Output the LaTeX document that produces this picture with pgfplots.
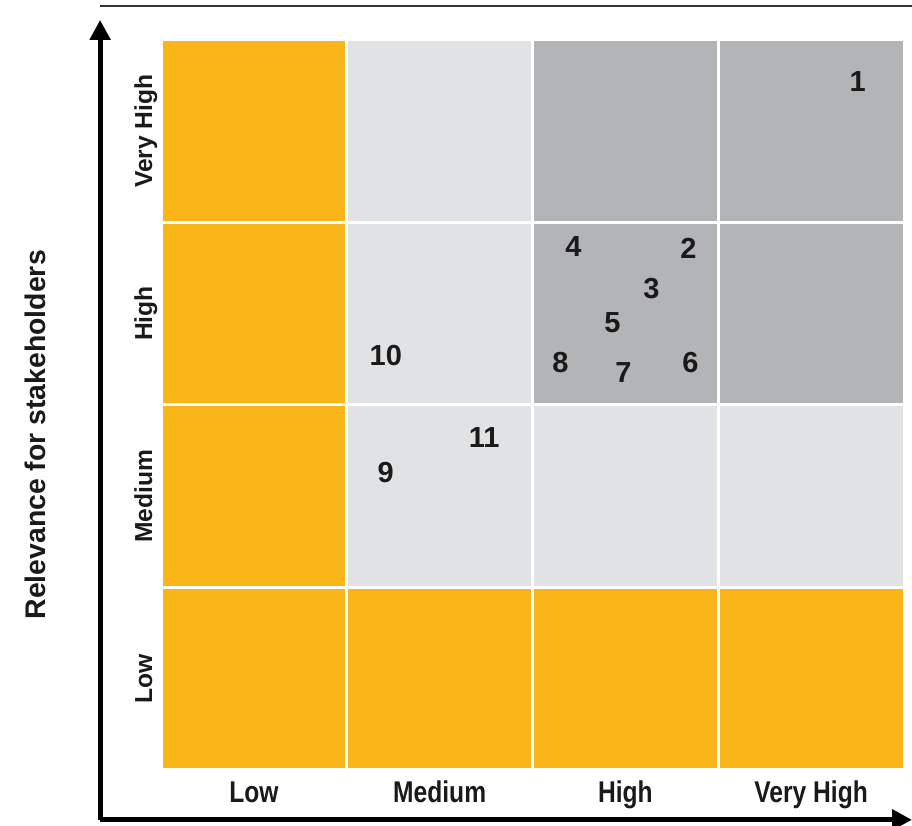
\documentclass[border=0pt]{standalone}
\usepackage{pgfplots}
\pgfplotsset{compat=1.18}
\usepackage{pgfplotstable}
\usepackage{fontspec}
\setmainfont{Liberation Sans}
\newfontfamily\narrowfont[FakeStretch=0.82]{Liberation Sans}
\usetikzlibrary{arrows.meta}
\definecolor{cOr}{HTML}{F9B417}
\definecolor{cLg}{HTML}{E1E2E3}
\definecolor{cDg}{HTML}{B3B4B6}
\definecolor{cTx}{HTML}{1A1A1A}

\pgfplotstableread{
x y label
3.75 3.77 1
2.84 2.86 2
2.64 2.64 3
2.22 2.87 4
2.43 2.45 5
2.85 2.23 6
2.49 2.18 7
2.15 2.23 8
1.21 1.63 9
1.21 2.27 10
1.74 1.82 11
}\points

\begin{document}
\begin{tikzpicture}
\begin{axis}[
  scale only axis,
  width=406pt, height=400pt,
  xmin=-0.328, xmax=4.043,
  ymin=-0.274, ymax=4.110,
  axis lines=left,
  axis line style={line width=2.6pt, -{Stealth[length=10pt,width=10pt,inset=0pt]}},
  clip=false,
  major tick length=0pt,
  xtick={0.5,1.5,2.5,3.5},
  xticklabels={Low,Medium,High,Very High},
  ytick={0.5,1.5,2.5,3.5},
  yticklabels={Low,Medium,High,Very High},
  xticklabel style={anchor=base, yshift=8.5pt, font=\narrowfont\bfseries\fontsize{15}{18}\selectfont, text=cTx},
  yticklabel style={rotate=90, anchor=base, yshift=-26pt, font=\bfseries\fontsize{12.3}{15}\selectfont, text=cTx},
  ylabel={Relevance for stakeholders},
  ylabel style={at={(axis cs:-0.678,1.836)}, anchor=center, rotate=0, font=\fontsize{14.2}{17}\selectfont\bfseries, text=cTx},
]
% Row Low (y 0-1)
\addplot[fill=cOr, draw=white, line width=1.5pt] coordinates {(0,0) (1,0) (1,1) (0,1)} -- cycle;
\addplot[fill=cOr, draw=white, line width=1.5pt] coordinates {(1,0) (2,0) (2,1) (1,1)} -- cycle;
\addplot[fill=cOr, draw=white, line width=1.5pt] coordinates {(2,0) (3,0) (3,1) (2,1)} -- cycle;
\addplot[fill=cOr, draw=white, line width=1.5pt] coordinates {(3,0) (4,0) (4,1) (3,1)} -- cycle;
% Row Medium (y 1-2)
\addplot[fill=cOr, draw=white, line width=1.5pt] coordinates {(0,1) (1,1) (1,2) (0,2)} -- cycle;
\addplot[fill=cLg, draw=white, line width=1.5pt] coordinates {(1,1) (2,1) (2,2) (1,2)} -- cycle;
\addplot[fill=cLg, draw=white, line width=1.5pt] coordinates {(2,1) (3,1) (3,2) (2,2)} -- cycle;
\addplot[fill=cLg, draw=white, line width=1.5pt] coordinates {(3,1) (4,1) (4,2) (3,2)} -- cycle;
% Row High (y 2-3)
\addplot[fill=cOr, draw=white, line width=1.5pt] coordinates {(0,2) (1,2) (1,3) (0,3)} -- cycle;
\addplot[fill=cLg, draw=white, line width=1.5pt] coordinates {(1,2) (2,2) (2,3) (1,3)} -- cycle;
\addplot[fill=cDg, draw=white, line width=1.5pt] coordinates {(2,2) (3,2) (3,3) (2,3)} -- cycle;
\addplot[fill=cDg, draw=white, line width=1.5pt] coordinates {(3,2) (4,2) (4,3) (3,3)} -- cycle;
% Row Very High (y 3-4)
\addplot[fill=cOr, draw=white, line width=1.5pt] coordinates {(0,3) (1,3) (1,4) (0,4)} -- cycle;
\addplot[fill=cLg, draw=white, line width=1.5pt] coordinates {(1,3) (2,3) (2,4) (1,4)} -- cycle;
\addplot[fill=cDg, draw=white, line width=1.5pt] coordinates {(2,3) (3,3) (3,4) (2,4)} -- cycle;
\addplot[fill=cDg, draw=white, line width=1.5pt] coordinates {(3,3) (4,3) (4,4) (3,4)} -- cycle;
% points
\addplot[only marks, mark=none, point meta=explicit symbolic,
  nodes near coords,
  nodes near coords style={anchor=center, font=\bfseries\fontsize{14.5}{17}\selectfont, text=cTx}]
  table[x=x, y=y, meta=label] {\points};
% top rule
\draw[line width=1.2pt, black!80] (axis cs:-0.328,4.186) -- (axis cs:4.043,4.186);
\coordinate (bbsw) at (axis cs:-0.867,-0.307);
\coordinate (bbne) at (axis cs:4.043,4.219);
\end{axis}
\pgfresetboundingbox
\path[use as bounding box] (bbsw) rectangle (bbne);
\end{tikzpicture}
\end{document}
